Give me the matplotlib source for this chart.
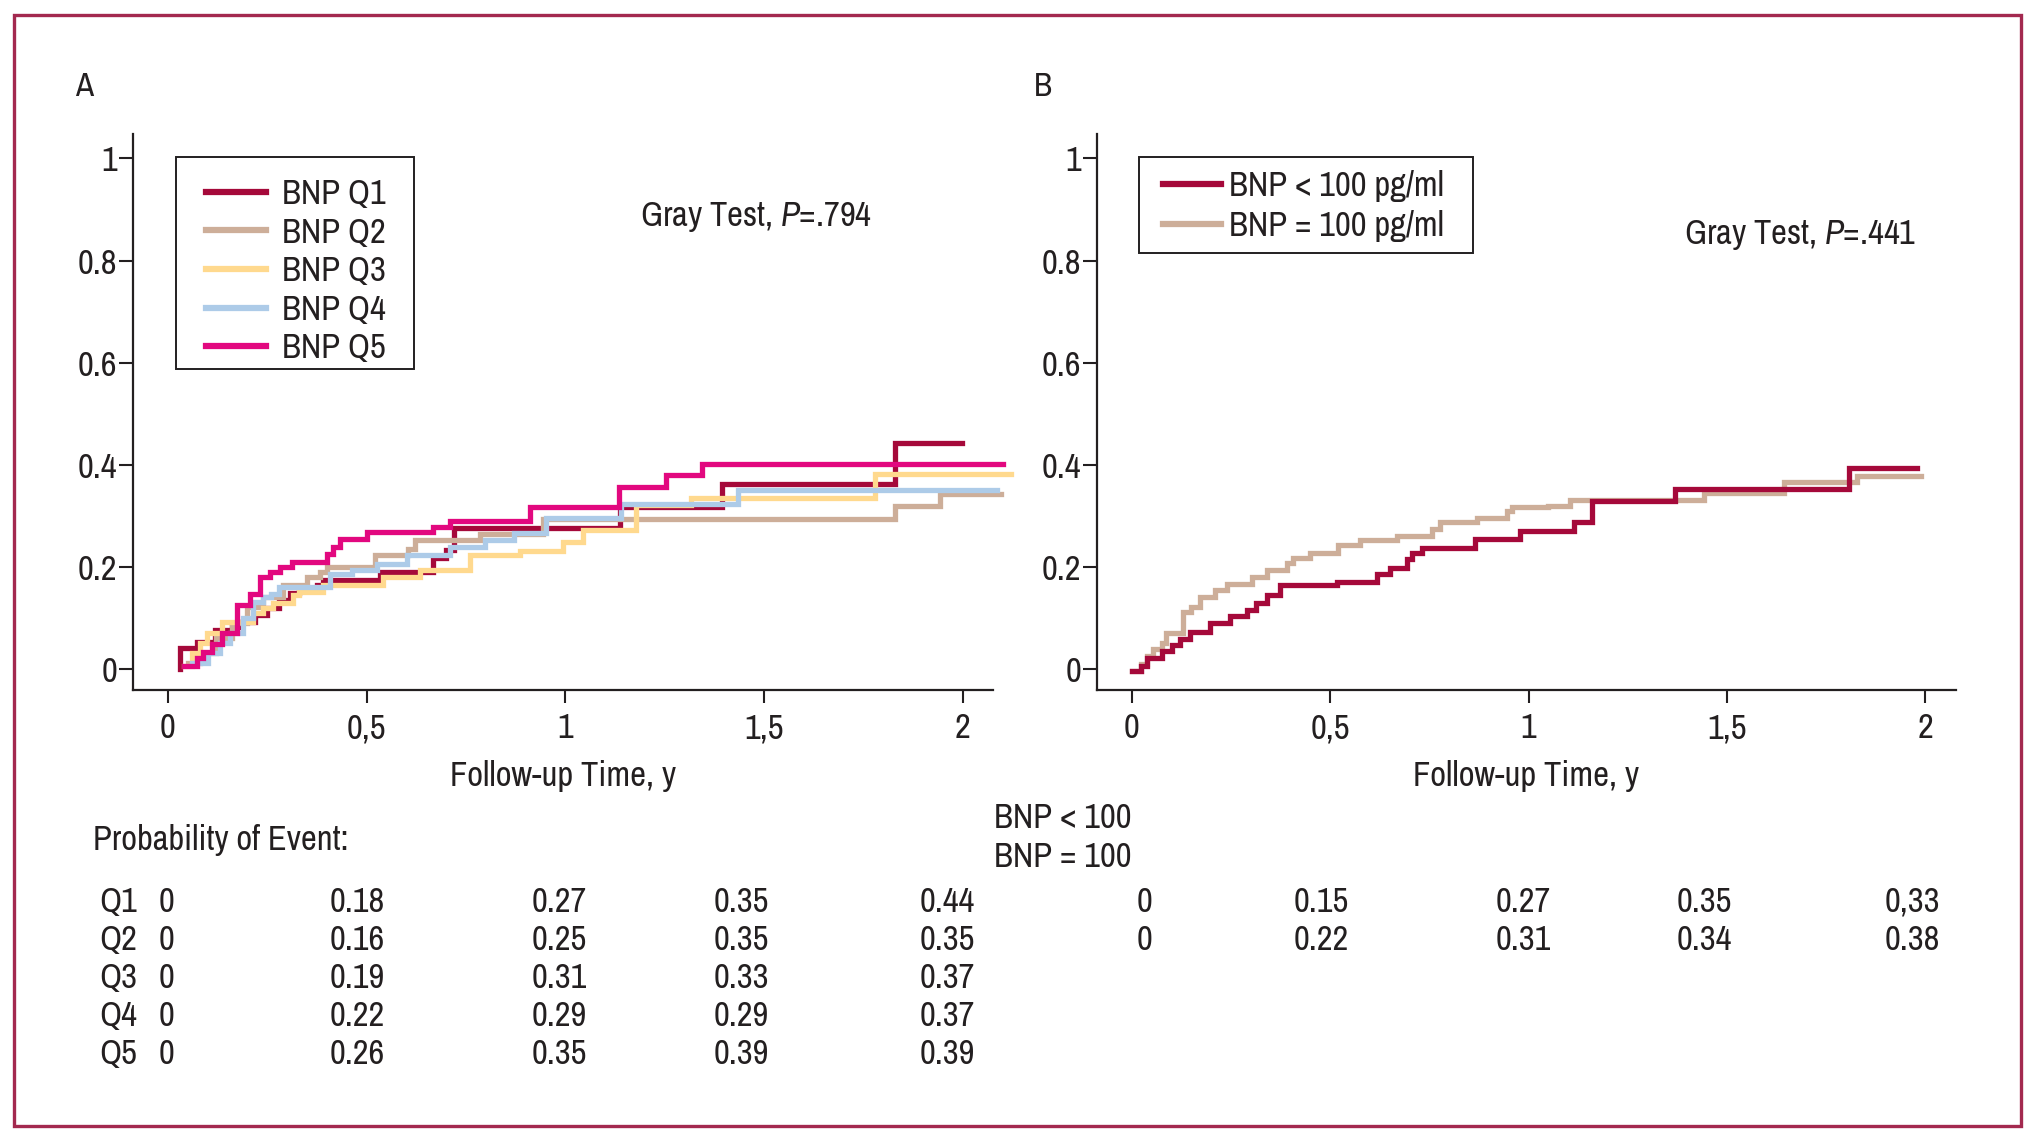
import matplotlib
matplotlib.use("Agg")
import matplotlib.pyplot as plt
from matplotlib import font_manager
from matplotlib.patches import Rectangle

W, H = 2041, 1145


def pick_condensed_font():
    # look for a narrow / condensed regular face among the installed fonts
    best = None
    for f in font_manager.fontManager.ttflist:
        name = f.name
        stretch = str(f.stretch)
        low = (name + " " + stretch).lower()
        if f.style != "normal" or f.weight not in (400, "normal", "regular", "book"):
            continue
        if "extra" in low or "ultra" in low:
            continue
        if "narrow" in low or "condensed" in stretch.lower() or "condensed" in name.lower():
            rank = 0 if ("narrow" in low or stretch == "condensed" or "condensed" in name.lower()) else 1
            if name.startswith("DejaVu"):
                rank += 2
            if best is None or rank < best[0]:
                best = (rank, name, stretch)
    if best is None:
        return "Liberation Sans", "normal"
    return best[1], best[2]


FONT, STRETCH = pick_condensed_font()
plt.rcParams["font.family"] = [FONT, "DejaVu Sans"]
plt.rcParams["font.stretch"] = STRETCH
plt.rcParams["mathtext.fontset"] = "custom"
plt.rcParams["mathtext.rm"] = f"{FONT}:stretch={STRETCH}"
plt.rcParams["mathtext.it"] = f"{FONT}:style=italic:stretch={STRETCH}"
INK = "#231f20"

# ---- panel A: cumulative incidence by BNP quintile (step times / values)
q1_t = [0.03, 0.031, 0.072, 0.118, 0.16, 0.185, 0.22, 0.248, 0.28, 0.307, 0.33, 0.374, 0.391,
        0.533, 0.667, 0.70, 0.72, 1.137, 1.393, 1.829, 1.997]
q1_p = [0.0, 0.04, 0.053, 0.075, 0.082, 0.092, 0.105, 0.118, 0.135, 0.148, 0.157, 0.164, 0.174,
        0.19, 0.216, 0.232, 0.275, 0.316, 0.361, 0.443, 0.443]
q2_t = [0.05, 0.08, 0.12, 0.16, 0.20, 0.24, 0.29, 0.349, 0.382, 0.399, 0.52, 0.605, 0.622,
        0.785, 0.944, 1.829, 1.942, 2.097]
q2_p = [0.01, 0.03, 0.06, 0.09, 0.12, 0.14, 0.164, 0.18, 0.19, 0.20, 0.223, 0.235, 0.252,
        0.263, 0.293, 0.319, 0.342, 0.342]
q3_t = [0.04, 0.06, 0.08, 0.097, 0.135, 0.215, 0.24, 0.265, 0.315, 0.33, 0.391, 0.542, 0.634,
        0.76, 0.886, 0.994, 1.045, 1.177, 1.317, 1.779, 2.122]
q3_p = [0.005, 0.03, 0.05, 0.069, 0.092, 0.108, 0.118, 0.128, 0.144, 0.15, 0.163, 0.179, 0.193,
        0.223, 0.23, 0.249, 0.272, 0.32, 0.335, 0.381, 0.381]
q4_t = [0.06, 0.10, 0.13, 0.155, 0.19, 0.215, 0.24, 0.26, 0.28, 0.407, 0.462, 0.525, 0.601,
        0.709, 0.797, 0.87, 0.95, 1.141, 1.434, 2.085]
q4_p = [0.01, 0.03, 0.05, 0.07, 0.10, 0.13, 0.14, 0.147, 0.16, 0.186, 0.193, 0.205, 0.223,
        0.239, 0.252, 0.265, 0.295, 0.3225, 0.351, 0.351]
q5_t = [0.04, 0.072, 0.089, 0.11, 0.135, 0.173, 0.206, 0.231, 0.256, 0.281, 0.311, 0.40, 0.415,
        0.433, 0.50, 0.667, 0.709, 0.911, 1.135, 1.253, 1.343, 2.10]
q5_p = [0.005, 0.02, 0.033, 0.049, 0.069, 0.125, 0.147, 0.18, 0.19, 0.20, 0.209, 0.225, 0.238,
        0.255, 0.267, 0.278, 0.289, 0.317, 0.355, 0.379, 0.402, 0.402]

# ---- panel B: BNP < 100 vs BNP = 100 pg/ml
lo_t = [0.0, 0.024, 0.037, 0.075, 0.10, 0.121, 0.146, 0.197, 0.247, 0.289, 0.314, 0.34, 0.373,
        0.516, 0.617, 0.651, 0.693, 0.706, 0.731, 0.866, 0.979, 1.114, 1.159, 1.369, 1.807, 1.979]
lo_p = [-0.004, 0.005, 0.02, 0.034, 0.046, 0.058, 0.072, 0.089, 0.104, 0.115, 0.128, 0.144, 0.163,
        0.169, 0.185, 0.198, 0.214, 0.226, 0.237, 0.254, 0.27, 0.288, 0.329, 0.352, 0.394, 0.394]
hi_t = [0.0, 0.024, 0.037, 0.054, 0.075, 0.087, 0.129, 0.15, 0.172, 0.209, 0.239, 0.302, 0.34,
        0.39, 0.407, 0.449, 0.52, 0.575, 0.667, 0.756, 0.777, 0.87, 0.945, 0.958, 1.05, 1.105,
        1.441, 1.643, 1.828, 1.988]
hi_p = [-0.004, 0.008, 0.025, 0.038, 0.05, 0.07, 0.11, 0.121, 0.141, 0.155, 0.166, 0.18, 0.193,
        0.206, 0.216, 0.226, 0.242, 0.252, 0.26, 0.273, 0.288, 0.296, 0.308, 0.316, 0.319, 0.33,
        0.344, 0.366, 0.378, 0.378]

labels_a = ["BNP Q1", "BNP Q2", "BNP Q3", "BNP Q4", "BNP Q5"]
colors_a = ["#a5093a", "#cdae99", "#ffd98e", "#adcbe8", "#e2087f"]
labels_b = ["BNP < 100 pg/ml", "BNP = 100 pg/ml"]
colors_b = ["#a5093a", "#cdae99"]

xticks = [0, 0.5, 1, 1.5, 2]
xticklabels = ["0", "0,5", "1", "1,5", "2"]
yticks = [0, 0.2, 0.4, 0.6, 0.8, 1]
yticklabels = ["0", "0.2", "0.4", "0.6", "0.8", "1"]

# ---- probability-of-event table
rows_a = ["Q1", "Q2", "Q3", "Q4", "Q5"]
table_a = [["0", "0.18", "0.27", "0.35", "0.44"],
           ["0", "0.16", "0.25", "0.35", "0.35"],
           ["0", "0.19", "0.31", "0.33", "0.37"],
           ["0", "0.22", "0.29", "0.29", "0.37"],
           ["0", "0.26", "0.35", "0.39", "0.39"]]
table_b = [["0", "0.15", "0.27", "0.35", "0,33"],
           ["0", "0.22", "0.31", "0.34", "0.38"]]


def fx(x):
    return x / W


def fy(y):
    return 1 - y / H


fig = plt.figure(figsize=(W / 100, H / 100), dpi=100)

# pick a size so the text keeps the reference's width (target ~230 px for the Gray test label)
probe = fig.text(0, 0, "Gray Test, P=.794", fontsize=25)
w = probe.get_window_extent(renderer=fig.canvas.get_renderer()).width
probe.remove()
FS = 25 * min(1.0, (230 / w) ** 0.6)

fig.patches.append(Rectangle((fx(14), fy(1126)), fx(2021) - fx(14), fy(15) - fy(1126),
                             transform=fig.transFigure, fill=False, edgecolor="#a3294f",
                             linewidth=2.4, zorder=0))


def style_axes(ax):
    ax.set_xlim(-0.088, 2.076)
    ax.set_ylim(-0.042, 1.048)
    for side in ["top", "right"]:
        ax.spines[side].set_visible(False)
    for side in ["left", "bottom"]:
        ax.spines[side].set_linewidth(1.6)
        ax.spines[side].set_color(INK)
    ax.set_xticks(xticks)
    ax.set_xticklabels(xticklabels)
    ax.set_yticks(yticks)
    ax.set_yticklabels(yticklabels)
    ax.tick_params(axis="both", direction="out", width=1.5, colors=INK, labelsize=FS)
    ax.tick_params(axis="y", length=10, pad=1.5)
    ax.tick_params(axis="x", length=9, pad=7)
    ax.set_xlabel("Follow-up Time, y", fontsize=FS, color=INK)
    ax.xaxis.set_label_coords(0.5, -0.155)
    ax.xaxis.label.set_va("center")


axA = fig.add_axes([fx(133), fy(690), fx(993) - fx(133), fy(134) - fy(690)])
axB = fig.add_axes([fx(1097), fy(690), fx(1955.5) - fx(1097), fy(134) - fy(690)])
style_axes(axA)
style_axes(axB)

series_a = [(q1_t, q1_p), (q2_t, q2_p), (q3_t, q3_p), (q4_t, q4_p), (q5_t, q5_p)]
for (t, p), lab, col in zip(series_a, labels_a, colors_a):
    axA.plot(t, p, drawstyle="steps-post", color=col, lw=3.8, label=lab, clip_on=False,
             solid_joinstyle="miter")

axB.plot(lo_t, lo_p, drawstyle="steps-post", color=colors_b[0], lw=3.8, label=labels_b[0],
         clip_on=False, zorder=3, solid_joinstyle="miter")
axB.plot(hi_t, hi_p, drawstyle="steps-post", color=colors_b[1], lw=3.8, label=labels_b[1],
         clip_on=False, zorder=2, solid_joinstyle="miter")

# legends: entries placed without their own frame, the box is drawn separately
em = FS * 100 / 72
legA = axA.legend(loc="upper left", bbox_to_anchor=(fx(206), fy(178)),
                  bbox_transform=fig.transFigure, fontsize=FS, frameon=False,
                  handlelength=60 / em, handletextpad=16 / em, labelspacing=0.19,
                  borderpad=0, borderaxespad=0)
legB = axB.legend(loc="upper left", bbox_to_anchor=(fx(1163), fy(170)),
                  bbox_transform=fig.transFigure, fontsize=FS, frameon=False,
                  handlelength=58 / em, handletextpad=8 / em, labelspacing=0.24,
                  borderpad=0, borderaxespad=0)
for leg in (legA, legB):
    for ln in leg.get_lines():
        ln.set_linewidth(4.5)
    for txt in leg.get_texts():
        txt.set_color(INK)
for x0, y0, x1, y1 in [(176, 157, 414, 369), (1138.5, 157, 1473, 253)]:
    fig.add_artist(Rectangle((fx(x0), fy(y1)), fx(x1) - fx(x0), fy(y0) - fy(y1),
                             transform=fig.transFigure, fill=False, edgecolor=INK,
                             linewidth=1.4, zorder=5))

fig.text(fx(75), fy(87), "A", fontsize=FS - 1, color=INK, va="center", ha="left")
fig.text(fx(1034), fy(87), "B", fontsize=FS - 1, color=INK, va="center", ha="left")
fig.text(fx(640), fy(217), r"Gray Test, $P$=.794", fontsize=FS, color=INK, va="center", ha="left")
fig.text(fx(1684), fy(235), r"Gray Test, $P$=.441", fontsize=FS, color=INK, va="center", ha="left")

# table of probabilities
fig.text(fx(93), fy(840), "Probability of Event:", fontsize=FS, color=INK, va="center")
fig.text(fx(994), fy(818), "BNP < 100", fontsize=FS, color=INK, va="center")
fig.text(fx(994), fy(857), "BNP = 100", fontsize=FS, color=INK, va="center")
row_y = [902, 940, 978, 1016, 1054]
cols_a = [167, 357, 559, 741, 947]
cols_b = [1144, 1321, 1523, 1704, 1912]
for r, lab in enumerate(rows_a):
    fig.text(fx(99), fy(row_y[r]), lab, fontsize=FS, color=INK, va="center", ha="left")
    for c, val in enumerate(table_a[r]):
        fig.text(fx(cols_a[c]), fy(row_y[r]), val, fontsize=FS, color=INK, va="center", ha="center")
for r, vals in enumerate(table_b):
    for c, val in enumerate(vals):
        fig.text(fx(cols_b[c]), fy(row_y[r]), val, fontsize=FS, color=INK, va="center", ha="center")

fig.savefig("out.png", dpi=100, facecolor="white")
